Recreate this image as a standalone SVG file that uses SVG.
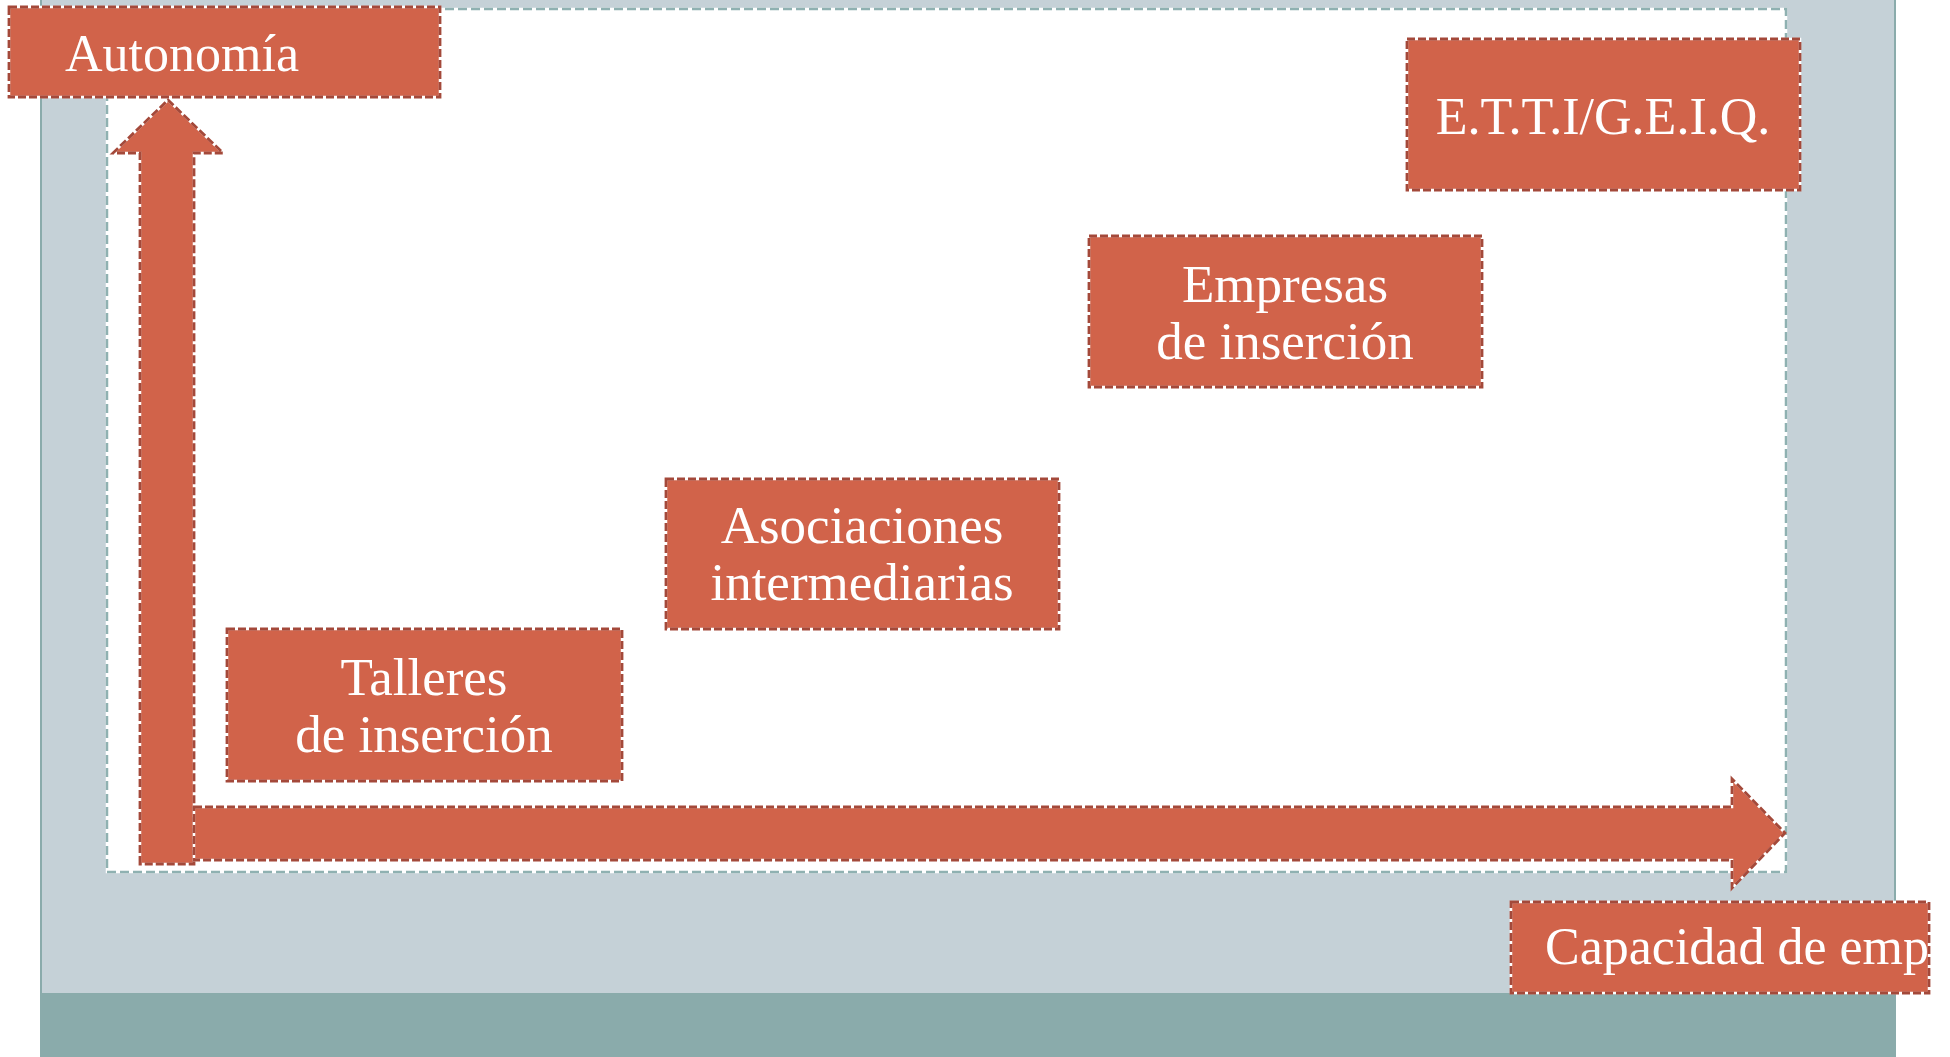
<svg xmlns="http://www.w3.org/2000/svg" width="1950" height="1057" viewBox="0 0 1950 1057">
<style>
.under{stroke:#ffffff;stroke-width:2.5;}
.box{fill:#d1634a;}
.dash{fill:none;stroke:#a4493a;stroke-width:2.8;stroke-dasharray:8 3;}
.tdash{fill:none;stroke:#8fb1b1;stroke-width:2.5;stroke-dasharray:9 4;}
.lbl{font-family:"Liberation Serif","DejaVu Serif",serif;font-size:52px;fill:#ffffff;}
.big{font-size:53px;}
.mid{text-anchor:middle;}
</style>
<rect x="0" y="0" width="1950" height="1057" fill="#ffffff"/>
<g id="background">
<rect x="40" y="0" width="1856" height="993" fill="#c5d1d7"/>
<rect x="40" y="993" width="1856" height="64" fill="#8aabab"/>
<line x1="41" y1="0" x2="41" y2="1057" stroke="#8aabab" stroke-width="2"/>
<line x1="1895" y1="0" x2="1895" y2="1057" stroke="#8aabab" stroke-width="2"/>
<rect x="107" y="9" width="1679" height="863" fill="#ffffff" class="under"/>
<rect x="107" y="9" width="1679" height="863" class="tdash"/>
</g>
<g id="connectors">
<g id="axis-y">
<path d="M140,864 L140,153 L113,153 L168,100 L223,153 L194,153 L194,864 Z" class="box under"/>
<path d="M140,864 L140,153 L113,153 L168,100 L223,153 L194,153 L194,864 Z" class="dash"/>
</g>
<g id="axis-x">
<path d="M194,807 L1732,807 L1732,779 L1785,833 L1732,888 L1732,860 L194,860 Z" class="box under"/>
<path d="M194,807 L1732,807 L1732,779 L1785,833 L1732,888 L1732,860 L194,860 Z" class="dash"/>
</g>
</g>
<g id="autonomia">
<rect x="9" y="7" width="431" height="90" class="box under"/>
<rect x="9" y="7" width="431" height="90" class="dash"/>
<text x="65" y="71" class="lbl">Autonomía</text>
</g>
<g id="etti">
<rect x="1407" y="39" width="393" height="151" class="box under"/>
<rect x="1407" y="39" width="393" height="151" class="dash"/>
<text x="1603" y="134" class="lbl mid">E.T.T.I/G.E.I.Q.</text>
</g>
<g id="empresas">
<rect x="1089" y="236" width="393" height="151" class="box under"/>
<rect x="1089" y="236" width="393" height="151" class="dash"/>
<text x="1285" y="302" class="lbl big mid">Empresas</text>
<text x="1285" y="359" class="lbl big mid">de inserción</text>
</g>
<g id="asociaciones">
<rect x="666" y="479" width="393" height="150" class="box under"/>
<rect x="666" y="479" width="393" height="150" class="dash"/>
<text x="862" y="543" class="lbl big mid">Asociaciones</text>
<text x="862" y="600" class="lbl big mid">intermediarias</text>
</g>
<g id="talleres">
<rect x="227" y="629" width="395" height="152" class="box under"/>
<rect x="227" y="629" width="395" height="152" class="dash"/>
<text x="424" y="695" class="lbl big mid">Talleres</text>
<text x="424" y="752" class="lbl big mid">de inserción</text>
</g>
<g id="capacidad">
<rect x="1511" y="902" width="418" height="91" class="box under"/>
<rect x="1511" y="902" width="418" height="91" class="dash"/>
<text x="1545" y="964" class="lbl">Capacidad de emp</text>
</g>
</svg>
